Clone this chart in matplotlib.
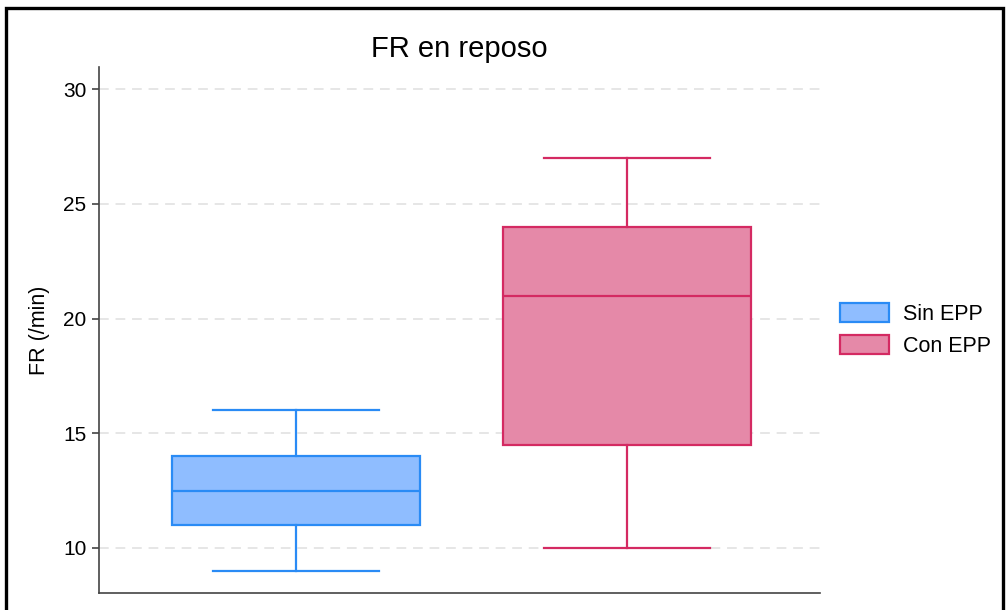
import matplotlib.pyplot as plt
from matplotlib.patches import Patch, Rectangle

plt.rcParams['font.family'] = ['Liberation Sans', 'DejaVu Sans']

# Data
groups = ['Sin EPP', 'Con EPP']
whis_lo = [9, 10]
q1 = [11, 14.5]
medians = [12.5, 21]
q3 = [14, 24]
whis_hi = [16, 27]

face_colors = ['#8fbdff', '#e589a8']
edge_colors = ['#2a8bf5', '#d42a62']

fig = plt.figure(figsize=(10.08, 6.10), dpi=100)
ax = fig.add_axes([0.0982, 0.028, 0.7153, 0.862])

stats = []
for i, g in enumerate(groups):
    stats.append({'label': g, 'whislo': whis_lo[i], 'q1': q1[i], 'med': medians[i],
                  'q3': q3[i], 'whishi': whis_hi[i], 'fliers': []})

for i, s in enumerate(stats):
    ec = edge_colors[i]
    ax.bxp([s], positions=[i + 1], widths=0.75, capwidths=0.5, patch_artist=True,
           showfliers=False,
           boxprops={'facecolor': face_colors[i], 'edgecolor': ec, 'linewidth': 1.6},
           medianprops={'color': ec, 'linewidth': 1.6},
           whiskerprops={'color': ec, 'linewidth': 1.6},
           capprops={'color': ec, 'linewidth': 1.6}, zorder=3)

ax.set_xlim(0.405, 2.583)
ax.set_ylim(8.04, 30.96)
ax.set_yticks([10, 15, 20, 25, 30])
ax.set_xticks([])
ax.yaxis.grid(True, color='#e6e6e6', linestyle=(0, (5, 3.5)), linewidth=1.4, zorder=0)
ax.set_axisbelow(True)

for side in ['top', 'right']:
    ax.spines[side].set_visible(False)
for side in ['left', 'bottom']:
    ax.spines[side].set_color('#444444')
    ax.spines[side].set_linewidth(1.2)
ax.tick_params(axis='y', labelsize=15, length=5, width=1.2, color='#444444', pad=4)

ax.set_ylabel('FR (/min)', fontsize=15.5, labelpad=9.5)
ax.set_title('FR en reposo', fontsize=21, pad=7.5)

handles = [Patch(facecolor=face_colors[i], edgecolor=edge_colors[i], linewidth=1.6, label=g)
           for i, g in enumerate(groups)]
fig.legend(handles=handles, loc='center left', bbox_to_anchor=(0.825, 0.459),
           frameon=False, fontsize=15.5, handlelength=2.25, handleheight=1.0,
           handletextpad=0.65, labelspacing=0.45, borderaxespad=0)

# outer frame, bottom edge falls outside the picture
fig.patches.append(Rectangle((0.0058, -0.05), 0.9888, 1.037, transform=fig.transFigure,
                             fill=False, edgecolor='black', linewidth=2.4, clip_on=False))

fig.savefig('out.png', dpi=100)
